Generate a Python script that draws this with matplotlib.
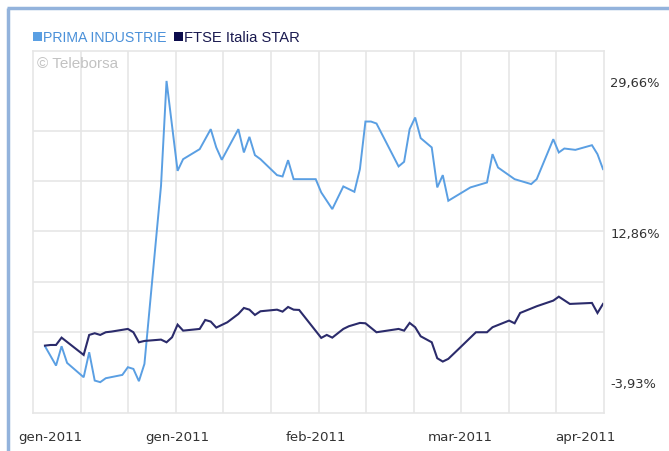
import matplotlib
matplotlib.use("Agg")
import matplotlib.pyplot as plt
from matplotlib.lines import Line2D
from matplotlib.patches import Rectangle
import numpy as np

# ---- data (trading-day index, % change) ----
prima_days = [0, 2, 3, 4, 7, 8, 9, 10, 11, 14, 15, 16, 17, 18, 21, 22, 23, 24, 25, 28,
              30, 31, 32, 35, 36, 37, 38, 39, 42, 43, 44, 45, 49, 50, 52, 54, 56, 57, 58,
              59, 60, 64, 65, 66, 67, 68, 70, 71, 72, 73, 77, 80, 81, 82, 85, 88, 89, 92,
              93, 94, 96, 99, 100, 101]
prima_vals = [0.06, -2.10, 0.06, -1.80, -3.40, -0.61, -3.77, -3.95, -3.51, -3.14, -2.28,
              -2.47, -3.84, -1.91, 17.96, 29.66, 24.65, 19.63, 20.93, 22.05, 24.28, 22.24,
              20.86, 24.28, 21.68, 23.42, 21.38, 20.93, 19.15, 19.00, 20.82, 18.70, 18.70,
              17.22, 15.36, 17.89, 17.29, 19.82, 25.13, 25.13, 24.91, 20.12, 20.64, 24.28,
              25.58, 23.28, 22.24, 17.78, 19.15, 16.29, 17.78, 18.33, 21.49, 20.00, 18.70,
              18.15, 18.70, 23.16, 21.68, 22.12, 21.97, 22.49, 21.49, 19.82]

ftse_days = [0, 1, 2, 3, 7, 8, 9, 10, 11, 12, 15, 16, 17, 18, 21, 22, 23, 24, 25, 28, 29,
             30, 31, 33, 35, 36, 37, 38, 39, 42, 43, 44, 45, 46, 50, 51, 52, 54, 55, 57, 58,
             60, 64, 65, 66, 67, 68, 70, 71, 72, 73, 75, 78, 80, 81, 84, 85, 86, 89, 92,
             93, 95, 99, 100, 101]
ftse_vals = [0.13, 0.20, 0.20, 1.02, -0.91, 1.32, 1.51, 1.32, 1.62, 1.69, 1.99, 1.62, 0.50,
             0.65, 0.80, 0.50, 1.06, 2.47, 1.80, 1.99, 2.99, 2.81, 2.14, 2.73, 3.66, 4.33,
             4.14, 3.55, 3.96, 4.14, 3.92, 4.44, 4.14, 4.11, 0.99, 1.32, 1.02, 1.99, 2.29,
             2.66, 2.62, 1.62, 1.99, 1.80, 2.66, 2.18, 1.17, 0.50, -1.28, -1.65, -1.35,
             -0.17, 1.62, 1.62, 2.18, 2.92, 2.62, 3.77, 4.52, 5.15, 5.59, 4.78, 4.89, 3.77,
             4.78]

series_names = ["PRIMA INDUSTRIE", "FTSE Italia STAR"]
y_ticks = [29.66, 12.86, -3.93]
y_ticklabels = ["29,66%", "12,86%", "-3,93%"]
x_ticklabels = ["gen-2011", "gen-2011", "feb-2011", "mar-2011", "apr-2011"]
x_tick_days = [0.9, 23.9, 49.0, 75.1, 97.9]

# ---- style ----
W, H = 669, 452
c_prima = "#5a9fe3"
c_ftse = "#2b2b6b"
c_grid = "#e6e6e6"
c_text = "#333333"

fig = plt.figure(figsize=(W / 100, H / 100), dpi=100)
fig.patch.set_facecolor("white")

ax = fig.add_axes([33 / W, (H - 414) / H, (604 - 33) / W, (414 - 52) / H])
xmin, xmax = -2.17, 101.18
ymin, ymax = -7.39, 33.0
ax.set_xlim(xmin, xmax)
ax.set_ylim(ymin, ymax)

# grid via minor ticks
ax.set_xticks(np.linspace(xmin, xmax, 13)[1:-1], minor=True)
ax.set_yticks(np.linspace(y_ticks[-1], y_ticks[0], 7), minor=True)
ax.grid(which="minor", color=c_grid, linewidth=1.2)
ax.grid(which="major", visible=False)
ax.set_axisbelow(True)

ax.set_xticks(x_tick_days)
ax.set_xticklabels(x_ticklabels)
ax.yaxis.tick_right()
ax.set_yticks(y_ticks)
ax.set_yticklabels(y_ticklabels)
ax.tick_params(which="both", length=0)
ax.tick_params(axis="x", pad=12.5, labelsize=9.6, labelcolor=c_text)
ax.tick_params(axis="y", pad=4.5, labelsize=9.4, labelcolor=c_text)
for lab in ax.get_yticklabels():
    lab.set_horizontalalignment("left")
for sp in ax.spines.values():
    sp.set_color(c_grid)
    sp.set_linewidth(1.2)

ax.plot(prima_days, prima_vals, color=c_prima, linewidth=1.4, solid_joinstyle="miter")
ax.plot(ftse_days, ftse_vals, color=c_ftse, linewidth=1.5, solid_joinstyle="miter")

# watermark
fig.text(37 / W, 1 - 64 / H, "\u00a9 Teleborsa", color="#c2c2c2", fontsize=11,
         family="Liberation Sans", va="center", ha="left")

# legend
fig.add_artist(Rectangle((33 / W, 1 - 42 / H), 9 / W, 9 / H, transform=fig.transFigure,
                         facecolor=c_prima, edgecolor="none"))
fig.text(43 / W, 1 - 37.5 / H, series_names[0], color="#4a90d9", fontsize=10.2,
         family="Liberation Sans", va="center", ha="left")
fig.add_artist(Rectangle((174 / W, 1 - 42 / H), 9 / W, 9 / H, transform=fig.transFigure,
                         facecolor="#0c0c4c", edgecolor="none"))
fig.text(184 / W, 1 - 37.5 / H, series_names[1], color="#1a1a50", fontsize=10.6,
         family="Liberation Sans", va="center", ha="left")

# outer frame (left and top)
fig.add_artist(Line2D([8 / W, 8 / W], [0, 1 - 8.5 / H], transform=fig.transFigure,
                      color="#93b3dc", linewidth=2.5, solid_capstyle="butt"))
fig.add_artist(Line2D([6.8 / W, 1], [1 - 9 / H, 1 - 9 / H], transform=fig.transFigure,
                      color="#93b3dc", linewidth=2.5, solid_capstyle="butt"))

fig.savefig("out.png", dpi=100)
